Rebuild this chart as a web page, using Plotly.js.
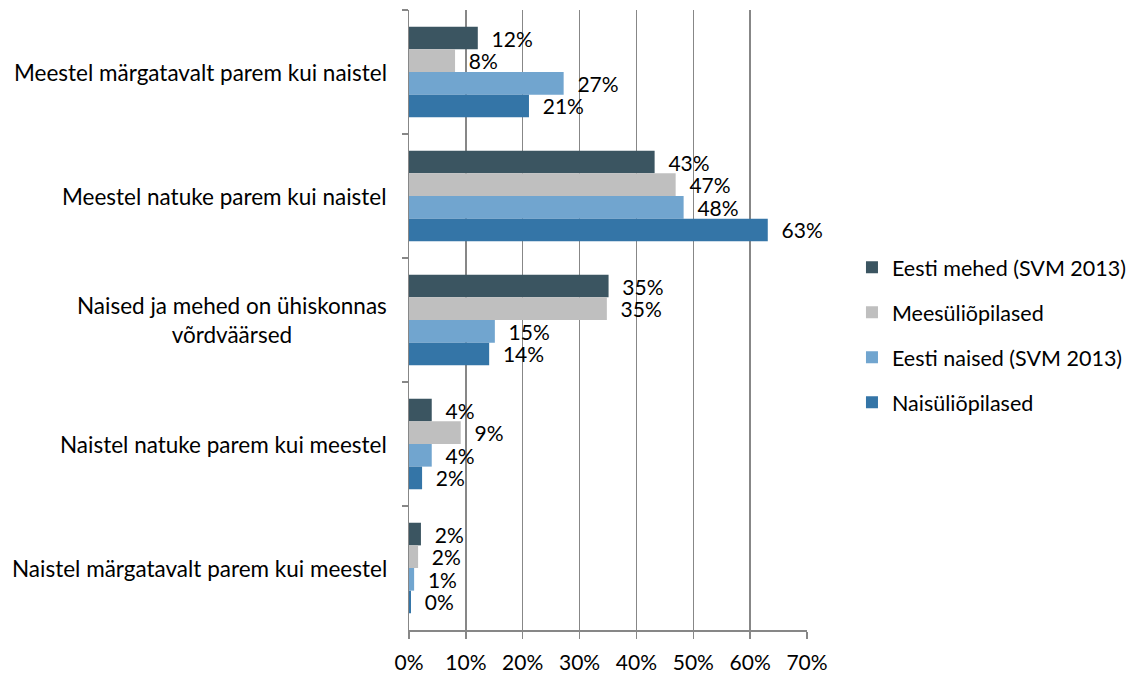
<!DOCTYPE html>
<html>
<head>
<meta charset="utf-8">
<script src="https://cdn.plot.ly/plotly-3.0.1.min.js"></script>
<style>html,body{margin:0;padding:0;background:#fff;}#chart{width:1134px;height:675px;}</style>
</head>
<body>
<div id="chart"></div>
<script>
var categories = [
  "Meestel märgatavalt parem kui naistel",
  "Meestel natuke parem kui naistel",
  "Naised ja mehed on ühiskonnas<br>võrdväärsed",
  "Naistel natuke parem kui meestel",
  "Naistel märgatavalt parem kui meestel"
];
var seriesNames = ["Eesti mehed (SVM 2013)", "Meesüliõpilased", "Eesti naised (SVM 2013)", "Naisüliõpilased"];
var eestiMehed = [12.1, 43.2, 35.1, 4.0, 2.1];
var meesYliopilased = [8.1, 46.9, 34.8, 9.1, 1.6];
var eestiNaised = [27.2, 48.3, 15.1, 4.0, 0.9];
var naisYliopilased = [21.1, 63.1, 14.1, 2.3, 0.35];
var xTickVals = [0, 10, 20, 30, 40, 50, 60, 70];
var xTickText = ["0%", "10%", "20%", "30%", "40%", "50%", "60%", "70%"];

var seriesValues = [eestiMehed, meesYliopilased, eestiNaised, naisYliopilased];
var colors = ["#3B5561", "#BFBFBF", "#71A5CF", "#3475A7"];
var FONT = "Lato, 'Open Sans', sans-serif";
var FS_CAT = 22.5;
var FS = 21;

var traces = seriesValues.map(function (vals, i) {
  return {
    type: "bar",
    orientation: "h",
    name: seriesNames[i],
    legendgroup: "g" + i,
    x: vals,
    y: categories,
    marker: { color: colors[i] },
    texttemplate: "\u00a0\u00a0%{x:.0f}%",
    textposition: "outside",
    constraintext: "none",
    cliponaxis: false,
    textfont: { family: FONT, size: FS, color: "#000" },
    hoverinfo: "x+name"
  };
});

var annotations = categories.map(function (c) {
  return {
    xref: "paper", yref: "y", x: 0, y: c, xshift: -20,
    xanchor: "right", yanchor: "middle", align: "center",
    text: c, showarrow: false,
    font: { family: FONT, size: FS_CAT, color: "#000" }
  };
});

var layout = {
  width: 1134, height: 675,
  margin: { l: 409, r: 327, t: 10, b: 45, pad: 0 },
  paper_bgcolor: "#fff", plot_bgcolor: "#fff",
  font: { family: FONT, size: FS, color: "#000" },
  barmode: "group",
  bargap: 0.27,
  bargroupgap: 0,
  showlegend: true,
  legend: {
    xref: "container", yref: "container",
    x: 0.7513, y: 0.504, xanchor: "left", yanchor: "middle",
    traceorder: "grouped", tracegroupgap: 14,
    font: { family: FONT, size: 21.5, color: "#000" },
    bgcolor: "rgba(0,0,0,0)"
  },
  xaxis: {
    range: [0, 70], tickvals: xTickVals, ticktext: xTickText,
    showgrid: true, gridcolor: "#878787", gridwidth: 1.5,
    zeroline: false, showline: true, linecolor: "#878787", linewidth: 1.5,
    ticks: "outside", ticklen: 7, tickcolor: "#878787", tickwidth: 1.5,
    ticklabelstandoff: 6,
    tickfont: { family: FONT, size: FS, color: "#000" },
    fixedrange: true
  },
  yaxis: {
    type: "category", range: [4.5, -0.5],
    showticklabels: false,
    showgrid: false, zeroline: false,
    showline: true, linecolor: "#878787", linewidth: 1.5,
    ticks: "outside", tickson: "boundaries", ticklen: 6, tickcolor: "#878787", tickwidth: 1.5,
    fixedrange: true
  },
  annotations: annotations
};

Plotly.newPlot("chart", traces, layout, { displayModeBar: false, staticPlot: true });
</script>
</body>
</html>
